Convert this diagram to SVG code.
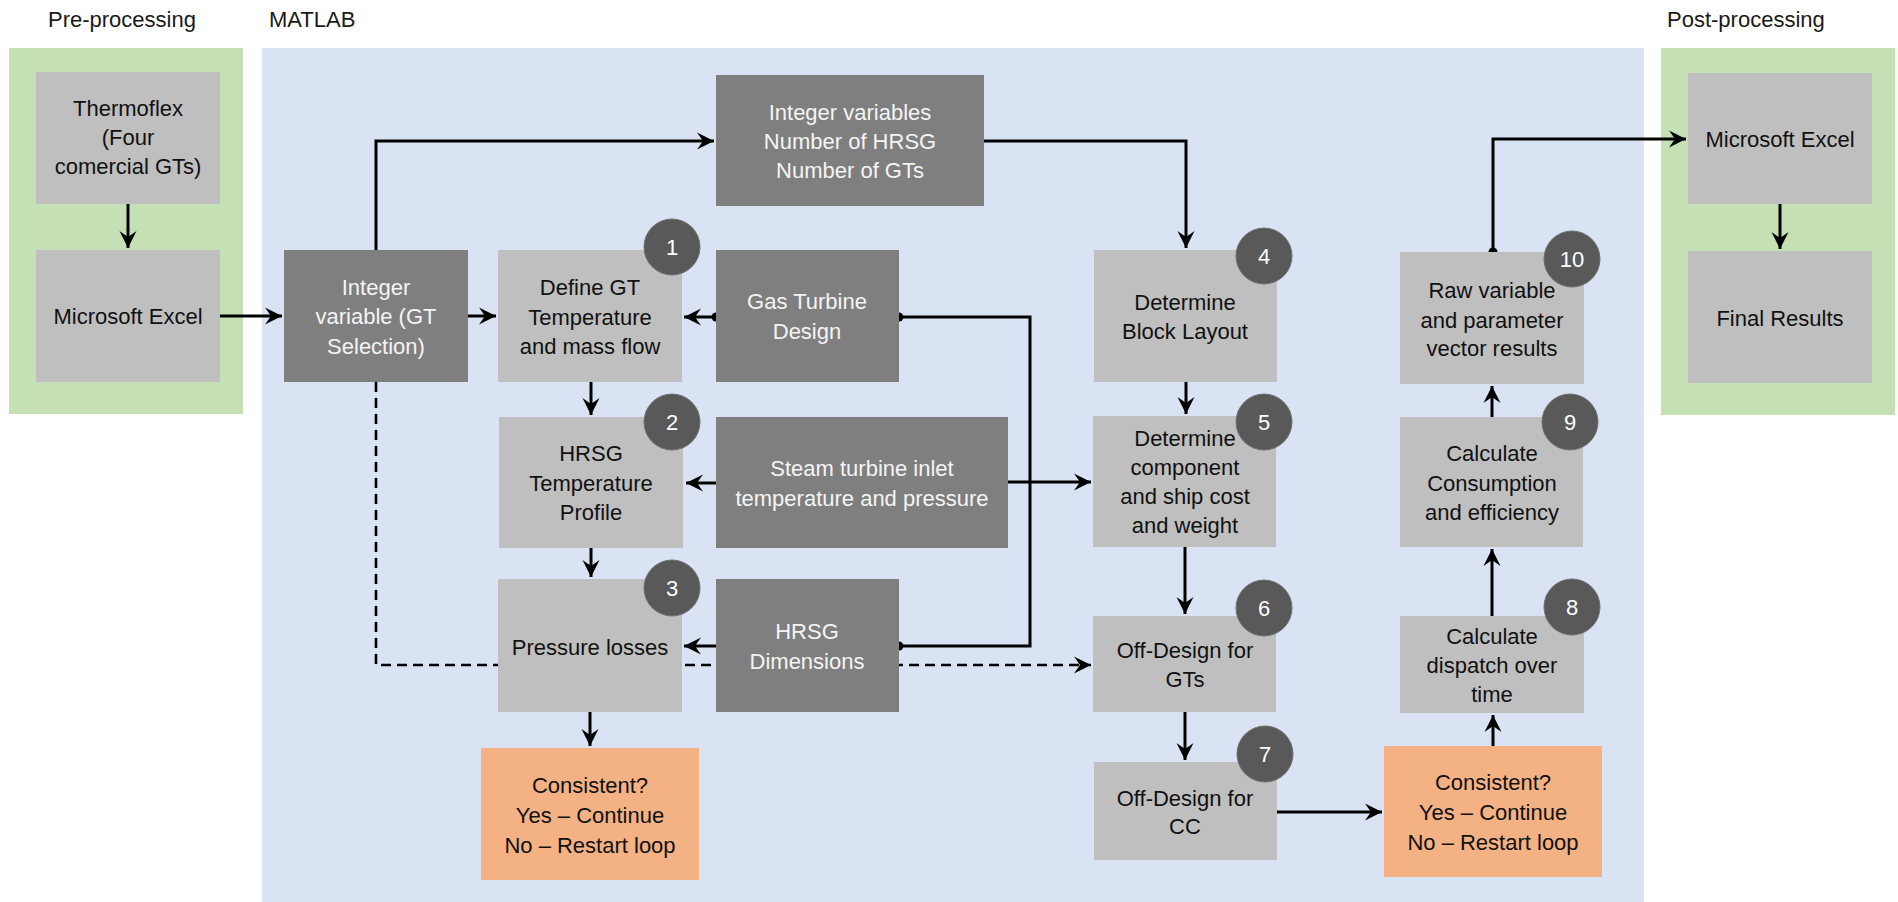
<svg xmlns="http://www.w3.org/2000/svg" width="1898" height="902" viewBox="0 0 1898 902">
  <style>
    text { font-family: "Liberation Sans", Arial, sans-serif; font-size: 22px; text-anchor: middle; }
    .title { text-anchor: start; fill: #1a1a1a; }
    .light rect { fill: #BFBFBF; }
    .light text { fill: #111111; }
    .dark rect { fill: #7F7F7F; }
    .dark text { fill: #F4F4F4; }
    .check rect { fill: #F4B183; }
    .check text { fill: #111111; }
    .badge circle { fill: #595959; stroke: #6e6e6e; stroke-width: 1; }
    .badge text { fill: #FFFFFF; }
    .wire { fill: none; stroke: #000; stroke-width: 3; }
    .dash { stroke-dasharray: 10 6; stroke-width: 2.6; }
    .dot { fill: #000; }
  </style>
  <defs>
    <marker id="arrow" markerUnits="userSpaceOnUse" markerWidth="20" markerHeight="20" viewBox="-18 -10 20 20" refX="0" refY="0" orient="auto">
      <path d="M0,0 L-17,-8.5 L-11,0 L-17,8.5 Z" fill="#000"/>
    </marker>
  </defs>

  <!-- background panels -->
  <rect x="0" y="0" width="1898" height="902" fill="#FFFFFF"/>
  <rect x="9" y="48" width="234" height="366" fill="#C5E0B4"/>
  <rect x="262" y="48" width="1382" height="854" fill="#DAE3F3"/>
  <rect x="1661" y="48" width="234" height="367" fill="#C5E0B4"/>

  <text class="title" x="48" y="27">Pre-processing</text>
  <text class="title" x="269" y="27">MATLAB</text>
  <text class="title" x="1667" y="27">Post-processing</text>

  <!-- connectors -->
  <g id="connectors">
    <path class="wire dash" d="M376,382 V665 H1091" marker-end="url(#arrow)"/>
    <path class="wire" d="M128,204 V248" marker-end="url(#arrow)"/>
    <path class="wire" d="M220,316 H282" marker-end="url(#arrow)"/>
    <path class="wire" d="M468,316 H496" marker-end="url(#arrow)"/>
    <path class="wire" d="M376,250 V141 H714" marker-end="url(#arrow)"/>
    <path class="wire" d="M984,141 H1186 V248" marker-end="url(#arrow)"/>
    <path class="wire" d="M716,317 H684" marker-end="url(#arrow)"/>
    <path class="wire" d="M899,317 H1030 V646 H899"/>
    <path class="wire" d="M1008,482 H1091" marker-end="url(#arrow)"/>
    <path class="wire" d="M716,483 H686" marker-end="url(#arrow)"/>
    <path class="wire" d="M716,646 H684" marker-end="url(#arrow)"/>
    <path class="wire" d="M591,382 V415" marker-end="url(#arrow)"/>
    <path class="wire" d="M591,548 V577" marker-end="url(#arrow)"/>
    <path class="wire" d="M590,712 V746" marker-end="url(#arrow)"/>
    <path class="wire" d="M1186,382 V414" marker-end="url(#arrow)"/>
    <path class="wire" d="M1185,547 V614" marker-end="url(#arrow)"/>
    <path class="wire" d="M1185,712 V760" marker-end="url(#arrow)"/>
    <path class="wire" d="M1277,812 H1382" marker-end="url(#arrow)"/>
    <path class="wire" d="M1493,746 V715" marker-end="url(#arrow)"/>
    <path class="wire" d="M1492,616 V549" marker-end="url(#arrow)"/>
    <path class="wire" d="M1492,417 V386" marker-end="url(#arrow)"/>
    <path class="wire" d="M1493,252 V139 H1686" marker-end="url(#arrow)"/>
    <path class="wire" d="M1780,204 V249" marker-end="url(#arrow)"/>
    <circle class="dot" cx="716" cy="317" r="4.5"/>
    <circle class="dot" cx="899" cy="317" r="4.5"/>
    <circle class="dot" cx="899" cy="646" r="4.5"/>
    <circle class="dot" cx="1493" cy="252" r="4.5"/>
  </g>

  <!-- pre-processing -->
  <g id="thermoflex" class="light">
    <rect x="36" y="72" width="184" height="132"/>
    <text x="128" y="116">Thermoflex</text>
    <text x="128" y="145">(Four</text>
    <text x="128" y="174">comercial GTs)</text>
  </g>
  <g id="excel-in" class="light">
    <rect x="36" y="250" width="184" height="132"/>
    <text x="128" y="324">Microsoft Excel</text>
  </g>

  <!-- MATLAB -->
  <g id="gt-selection" class="dark">
    <rect x="284" y="250" width="184" height="132"/>
    <text x="376" y="295">Integer</text>
    <text x="376" y="324">variable (GT</text>
    <text x="376" y="354">Selection)</text>
  </g>
  <g id="integer-variables" class="dark">
    <rect x="716" y="75" width="268" height="131"/>
    <text x="850" y="120">Integer variables</text>
    <text x="850" y="149">Number of HRSG</text>
    <text x="850" y="178">Number of GTs</text>
  </g>
  <g id="define-gt" class="light">
    <rect x="498" y="250" width="184" height="132"/>
    <text x="590" y="295">Define GT</text>
    <text x="590" y="325">Temperature</text>
    <text x="590" y="354">and mass flow</text>
  </g>
  <g id="gt-design" class="dark">
    <rect x="716" y="250" width="183" height="132"/>
    <text x="807" y="309">Gas Turbine</text>
    <text x="807" y="339">Design</text>
  </g>
  <g id="hrsg-profile" class="light">
    <rect x="499" y="417" width="184" height="131"/>
    <text x="591" y="461">HRSG</text>
    <text x="591" y="491">Temperature</text>
    <text x="591" y="520">Profile</text>
  </g>
  <g id="steam-inlet" class="dark">
    <rect x="716" y="417" width="292" height="131"/>
    <text x="862" y="476">Steam turbine inlet</text>
    <text x="862" y="506">temperature and pressure</text>
  </g>
  <g id="pressure-losses" class="light">
    <rect x="498" y="579" width="184" height="133"/>
    <text x="590" y="655">Pressure losses</text>
  </g>
  <g id="hrsg-dimensions" class="dark">
    <rect x="716" y="579" width="183" height="133"/>
    <text x="807" y="639">HRSG</text>
    <text x="807" y="669">Dimensions</text>
  </g>
  <g id="check-left" class="check">
    <rect x="481" y="748" width="218" height="132"/>
    <text x="590" y="793">Consistent?</text>
    <text x="590" y="823">Yes – Continue</text>
    <text x="590" y="853">No – Restart loop</text>
  </g>
  <g id="block-layout" class="light">
    <rect x="1094" y="250" width="183" height="132"/>
    <text x="1185" y="310">Determine</text>
    <text x="1185" y="339">Block Layout</text>
  </g>
  <g id="cost-weight" class="light">
    <rect x="1093" y="416" width="183" height="131"/>
    <text x="1185" y="446">Determine</text>
    <text x="1185" y="475">component</text>
    <text x="1185" y="504">and ship cost</text>
    <text x="1185" y="533">and weight</text>
  </g>
  <g id="off-design-gt" class="light">
    <rect x="1093" y="616" width="183" height="96"/>
    <text x="1185" y="658">Off-Design for</text>
    <text x="1185" y="687">GTs</text>
  </g>
  <g id="off-design-cc" class="light">
    <rect x="1094" y="762" width="183" height="98"/>
    <text x="1185" y="806">Off-Design for</text>
    <text x="1185" y="834">CC</text>
  </g>
  <g id="check-right" class="check">
    <rect x="1384" y="746" width="218" height="131"/>
    <text x="1493" y="790">Consistent?</text>
    <text x="1493" y="820">Yes – Continue</text>
    <text x="1493" y="850">No – Restart loop</text>
  </g>
  <g id="dispatch" class="light">
    <rect x="1400" y="616" width="184" height="97"/>
    <text x="1492" y="644">Calculate</text>
    <text x="1492" y="673">dispatch over</text>
    <text x="1492" y="702">time</text>
  </g>
  <g id="consumption" class="light">
    <rect x="1400" y="417" width="183" height="130"/>
    <text x="1492" y="461">Calculate</text>
    <text x="1492" y="491">Consumption</text>
    <text x="1492" y="520">and efficiency</text>
  </g>
  <g id="raw-results" class="light">
    <rect x="1400" y="252" width="184" height="132"/>
    <text x="1492" y="298">Raw variable</text>
    <text x="1492" y="328">and parameter</text>
    <text x="1492" y="356">vector results</text>
  </g>

  <!-- post-processing -->
  <g id="excel-out" class="light">
    <rect x="1688" y="73" width="184" height="131"/>
    <text x="1780" y="147">Microsoft Excel</text>
  </g>
  <g id="final-results" class="light">
    <rect x="1688" y="251" width="184" height="132"/>
    <text x="1780" y="326">Final Results</text>
  </g>

  <!-- step numbers -->
  <g id="step-1" class="badge"><circle cx="672" cy="247" r="28"/><text x="672" y="255">1</text></g>
  <g id="step-2" class="badge"><circle cx="672" cy="422" r="28"/><text x="672" y="430">2</text></g>
  <g id="step-3" class="badge"><circle cx="672" cy="588" r="28"/><text x="672" y="596">3</text></g>
  <g id="step-4" class="badge"><circle cx="1264" cy="256" r="28"/><text x="1264" y="264">4</text></g>
  <g id="step-5" class="badge"><circle cx="1264" cy="422" r="28"/><text x="1264" y="430">5</text></g>
  <g id="step-6" class="badge"><circle cx="1264" cy="608" r="28"/><text x="1264" y="616">6</text></g>
  <g id="step-7" class="badge"><circle cx="1265" cy="754" r="28"/><text x="1265" y="762">7</text></g>
  <g id="step-8" class="badge"><circle cx="1572" cy="607" r="28"/><text x="1572" y="615">8</text></g>
  <g id="step-9" class="badge"><circle cx="1570" cy="422" r="28"/><text x="1570" y="430">9</text></g>
  <g id="step-10" class="badge"><circle cx="1572" cy="259" r="28"/><text x="1572" y="267">10</text></g>
</svg>
